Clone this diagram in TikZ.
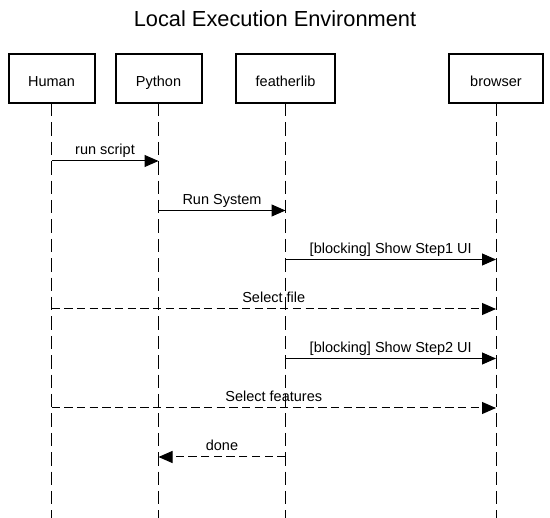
\documentclass[tikz,border=0pt]{standalone}
\usepackage{fontspec}
\setmainfont{Liberation Sans}
\usetikzlibrary{arrows.meta}
\begin{document}
\begin{tikzpicture}[x=1pt,y=-1pt,
  actor/.style={draw=black,line width=2pt,fill=white,minimum height=49pt,inner sep=0pt,text height=17pt,text depth=0pt,font=\fontsize{14.5}{16}\selectfont},
  lifeline/.style={draw=black,line width=1pt,dash pattern=on 13.4pt off 6pt},
  msg/.style={draw=black,line width=1pt,-{Triangle[length=14pt,width=12pt]}},
  reply/.style={msg,dash pattern=on 8.3pt off 4.4pt},
  lbl/.style={font=\fontsize{14.5}{16}\selectfont,anchor=base,inner sep=0pt,pos=0.5,yshift=6pt}]
\useasboundingbox (0,0) rectangle (550,518);
\node[font=\fontsize{21.8}{24}\selectfont,anchor=base,inner sep=0pt] (title) at (275,26.7) {Local Execution Environment};
% lifeline ends
\coordinate (hb) at (51.5,518);
\coordinate (pb) at (158.5,518);
\coordinate (fb) at (285.5,518);
\coordinate (bb) at (496,518);
\draw[lifeline] (51.5,103) -- (hb);
\draw[lifeline] (158.5,103) -- (pb);
\draw[lifeline] (285.5,103) -- (fb);
\draw[lifeline] (496,103) -- (bb);
% actors
\node[actor,minimum width=86pt] (human) at (51.5,78.5) {Human};
\node[actor,minimum width=86pt] (python) at (158.5,78.5) {Python};
\node[actor,minimum width=99pt] (featherlib) at (285.5,78.5) {featherlib};
\node[actor,minimum width=94pt] (browser) at (496,78.5) {browser};
% rows
\coordinate (r1) at (0,161);
\coordinate (r2) at (0,210.5);
\coordinate (r3) at (0,259.5);
\coordinate (r4) at (0,309);
\coordinate (r5) at (0,358.5);
\coordinate (r6) at (0,408);
\coordinate (r7) at (0,457);
% messages
\draw[msg] (human |- r1) -- node[lbl] (l1) {run script} (python |- r1);
\draw[msg] (python |- r2) -- node[lbl] (l2) {Run System} (featherlib |- r2);
\draw[msg] (featherlib |- r3) -- node[lbl] (l3) {[blocking] Show Step1 UI} (browser |- r3);
\draw[reply] (human |- r4) -- node[lbl] (l4) {Select file} (browser |- r4);
\draw[msg] (featherlib |- r5) -- node[lbl] (l5) {[blocking] Show Step2 UI} (browser |- r5);
\draw[reply] (human |- r6) -- node[lbl] (l6) {Select features} (browser |- r6);
\draw[reply] (featherlib |- r7) -- node[lbl] (l7) {done} (python |- r7);
\end{tikzpicture}
\end{document}
